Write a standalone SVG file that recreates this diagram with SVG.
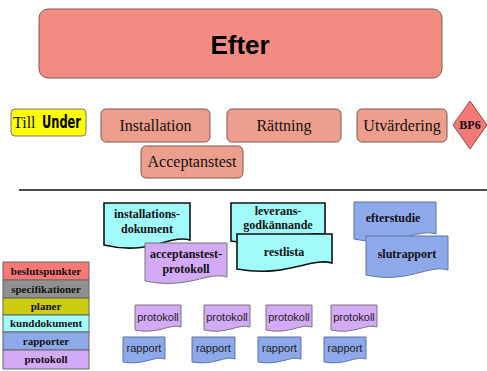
<svg xmlns="http://www.w3.org/2000/svg" width="487" height="371" viewBox="0 0 487 371">
  <style>
    .phase { fill: #f28c82; stroke: #7a5a55; stroke-width: 1; }
    .task { fill: #ee9e8c; stroke: #7a5a55; stroke-width: 1; }
    .serif { font-family: "Liberation Serif", "Times New Roman", serif; fill: #111; }
    .tlabel { font-size: 16px; text-anchor: middle; }
    .dlabel { font-size: 12px; font-weight: bold; text-anchor: middle; }
    .kund { fill: #a2fbfb; stroke: #111; stroke-width: 1.6; }
    .prot { fill: #d3aaf6; stroke: #777; stroke-width: 1; }
    .rapp { fill: #8ea9ea; stroke: #5c74a8; stroke-width: 1; }
    .small { font-family: "Liberation Sans", Arial, sans-serif; font-size: 11px; fill: #222; text-anchor: middle; }
    .leg { stroke: #666; stroke-width: 1; }
    .legtext { font-family: "Liberation Serif", "Times New Roman", serif; font-size: 11px; font-weight: bold; text-anchor: middle; fill: #111; }
  </style>

  <rect width="487" height="371" fill="#ffffff"/>

  <!-- phase header -->
  <g id="efter">
    <rect class="phase" x="39" y="9" width="403" height="69" rx="9"/>
    <text x="240" y="54" font-family="Liberation Sans, Arial, sans-serif" font-size="26" font-weight="bold" text-anchor="middle" fill="#000">Efter</text>
  </g>

  <!-- back link -->
  <g id="till-under">
    <rect x="11" y="109" width="75" height="27" rx="4" fill="#ffff00" stroke="#777" stroke-width="1"/>
    <text x="13" y="128" class="serif" font-size="16">Till</text>
    <text x="42" y="128" font-family="Liberation Sans Narrow, DejaVu Sans Condensed, sans-serif" font-size="17" font-weight="bold" textLength="39" lengthAdjust="spacingAndGlyphs" fill="#000">Under</text>
  </g>

  <!-- activities -->
  <g id="installation">
    <rect class="task" x="101" y="109" width="109" height="33" rx="5"/>
    <text class="serif tlabel" x="155.5" y="131">Installation</text>
  </g>
  <g id="rattning">
    <rect class="task" x="227" y="109" width="114" height="33" rx="5"/>
    <text class="serif tlabel" x="284" y="131">Rättning</text>
  </g>
  <g id="utvardering">
    <rect class="task" x="357" y="109" width="90" height="33" rx="5"/>
    <text class="serif tlabel" x="402" y="131">Utvärdering</text>
  </g>
  <g id="acceptanstest">
    <rect class="task" x="141" y="146" width="102" height="32" rx="5"/>
    <text class="serif tlabel" x="192" y="167">Acceptanstest</text>
  </g>
  <g id="bp6">
    <polygon points="470,101 487,125 470,149 453,125" fill="#f47874" stroke="#8a4a48" stroke-width="1"/>
    <text class="serif" x="470" y="129" font-size="12" font-weight="bold" text-anchor="middle">BP6</text>
  </g>

  <!-- divider -->
  <g id="connectors">
    <line x1="19" y1="190" x2="487" y2="190" stroke="#111" stroke-width="1.5"/>
  </g>

  <!-- deliverable documents -->
  <g id="installationsdokument">
    <path class="kund" d="M104,203 H190 V240 C170,234 150,256 104,245 Z"/>
    <text class="serif dlabel" x="147" y="218">installations-</text>
    <text class="serif dlabel" x="147" y="233">dokument</text>
  </g>
  <g id="acceptanstestprotokoll">
    <path class="prot" d="M145,243 H227 V277 C208,271 188,290 145,281 Z"/>
    <text class="serif dlabel" x="186" y="258">acceptanstest-</text>
    <text class="serif dlabel" x="186" y="273">protokoll</text>
  </g>
  <g id="leveransgodkannande">
    <path class="kund" d="M231,203 H325 V235 C303,229 281,250 231,241 Z"/>
    <text class="serif dlabel" x="278" y="215">leverans-</text>
    <text class="serif dlabel" x="278" y="229">godkännande</text>
  </g>
  <g id="restlista">
    <path class="kund" d="M237,234 H332 V263 C310,257 288,278 237,269 Z"/>
    <text class="serif dlabel" x="284" y="256">restlista</text>
  </g>
  <g id="efterstudie">
    <path class="rapp" d="M354,202 H436 V234 C416,228 397,248 354,239 Z"/>
    <text class="serif dlabel" x="393" y="222">efterstudie</text>
  </g>
  <g id="slutrapport">
    <path class="rapp" d="M366,236 H448 V270 C428,264 409,284 366,275 Z"/>
    <text class="serif dlabel" x="407" y="258">slutrapport</text>
  </g>

  <!-- legend -->
  <g id="legend">
    <rect class="leg" x="3" y="262" width="86" height="18" fill="#f87878"/>
    <rect class="leg" x="3" y="280" width="86" height="18" fill="#909090"/>
    <rect class="leg" x="3" y="298" width="86" height="17" fill="#cccc10"/>
    <rect class="leg" x="3" y="315" width="86" height="17" fill="#a2fbfb"/>
    <rect class="leg" x="3" y="332" width="86" height="18" fill="#8ea9ea"/>
    <rect class="leg" x="3" y="350" width="86" height="19" fill="#d3aaf6"/>
    <text class="legtext" x="46" y="275">beslutspunkter</text>
    <text class="legtext" x="46" y="293">specifikationer</text>
    <text class="legtext" x="46" y="310">planer</text>
    <text class="legtext" x="46" y="327">kunddokument</text>
    <text class="legtext" x="46" y="345">rapporter</text>
    <text class="legtext" x="46" y="363">protokoll</text>
  </g>

  <!-- blank templates -->
  <g id="protokoll-1">
    <path class="prot" d="M135,305 H181 V327 C170,323 158,335 135,330 Z"/>
    <text class="small" x="158" y="321">protokoll</text>
  </g>
  <g id="protokoll-2">
    <path class="prot" d="M204,305 H250 V327 C239,323 227,335 204,330 Z"/>
    <text class="small" x="227" y="321">protokoll</text>
  </g>
  <g id="protokoll-3">
    <path class="prot" d="M266,305 H312 V327 C301,323 289,335 266,330 Z"/>
    <text class="small" x="289" y="321">protokoll</text>
  </g>
  <g id="protokoll-4">
    <path class="prot" d="M331,305 H377 V327 C366,323 354,335 331,330 Z"/>
    <text class="small" x="354" y="321">protokoll</text>
  </g>
  <g id="rapport-1">
    <path class="rapp" d="M123,337 H165 V359 C155,355 144,366 123,362 Z"/>
    <text class="small" x="144" y="352">rapport</text>
  </g>
  <g id="rapport-2">
    <path class="rapp" d="M192,337 H235 V359 C225,355 214,366 192,362 Z"/>
    <text class="small" x="213.5" y="352">rapport</text>
  </g>
  <g id="rapport-3">
    <path class="rapp" d="M258,337 H301 V359 C291,355 280,366 258,362 Z"/>
    <text class="small" x="279.5" y="352">rapport</text>
  </g>
  <g id="rapport-4">
    <path class="rapp" d="M324,337 H366 V359 C356,355 345,366 324,362 Z"/>
    <text class="small" x="345" y="352">rapport</text>
  </g>
</svg>
